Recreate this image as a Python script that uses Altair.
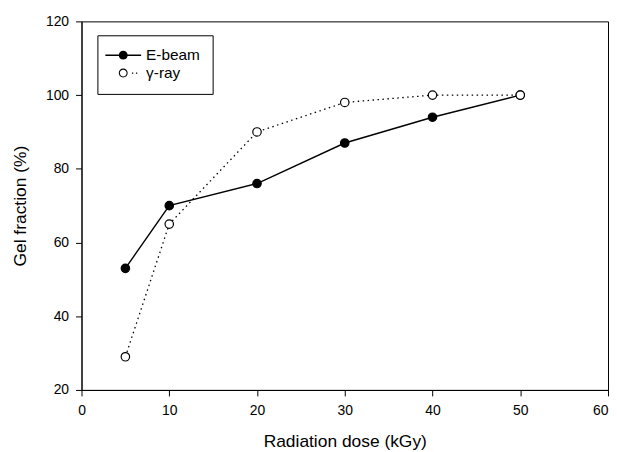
import altair as alt
import pandas as pd

# Data
dose = [5, 10, 20, 30, 40, 50]
ebeam = [53, 70, 76, 87, 94, 100]
gamma = [29, 65, 90, 98, 100, 100]
series_names = ["E-beam", "γ-ray"]
x_ticks = [0, 10, 20, 30, 40, 50, 60]
y_ticks = [20, 40, 60, 80, 100, 120]

df = pd.DataFrame({
    "dose": dose * 2,
    "gel": ebeam + gamma,
    "series": [series_names[0]] * len(dose) + [series_names[1]] * len(dose),
})

FONT = "Liberation Sans"

x_enc = alt.X("dose:Q", scale=alt.Scale(domain=[0, 60], nice=False),
              axis=alt.Axis(values=x_ticks, title="Radiation dose (kGy)", grid=False,
                            format="d", labelFlush=False,
                            labelAlign=alt.ExprRef(expr="datum.value >= 60 ? 'right' : 'center'")))
y_enc = alt.Y("gel:Q", scale=alt.Scale(domain=[20, 120], nice=False),
              axis=alt.Axis(values=y_ticks, title="Gel fraction (%)", grid=False,
                            format="d", labelFlush=False))

is_e = alt.datum.series == series_names[0]
is_g = alt.datum.series == series_names[1]

line_e = alt.Chart(df).transform_filter(is_e).mark_line(
    color="black", strokeWidth=1.4).encode(x=x_enc, y=y_enc)

line_g = alt.Chart(df).transform_filter(is_g).mark_line(
    color="black", strokeWidth=1.3, strokeDash=[1.5, 3.5]).encode(x=x_enc, y=y_enc)

# legend symbols (filled geometry only): line + filled dot ; open dot + two dots
p_e = ("M-2.25,-0.09L2.25,-0.09L2.25,0.09L-2.25,0.09Z"
       "M-0.56,0A0.56,0.56,0,1,1,0.56,0A0.56,0.56,0,1,1,-0.56,0Z")
p_g = ("M-0.56,0A0.56,0.56,0,1,1,0.56,0A0.56,0.56,0,1,1,-0.56,0Z"
       "M-0.43,0A0.43,0.43,0,1,0,0.43,0A0.43,0.43,0,1,0,-0.43,0Z"
       "M1.1,-0.08L1.26,-0.08L1.26,0.08L1.1,0.08Z"
       "M1.6,-0.08L1.76,-0.08L1.76,0.08L1.6,0.08Z")

legend_layer = alt.Chart(df).mark_point(
    filled=True, fill="black", stroke="black", strokeWidth=0, opacity=0).encode(
    x=x_enc, y=y_enc,
    shape=alt.Shape("series:N", scale=alt.Scale(domain=series_names, range=[p_e, p_g]),
                    legend=alt.Legend(title=None, orient="none", legendX=16, legendY=14,
                                      strokeColor="black", padding=12, rowPadding=1,
                                      symbolSize=256, symbolOffset=6, labelOffset=15,
                                      symbolFillColor="black", symbolStrokeWidth=0,
                                      symbolStrokeColor="black",
                                      symbolOpacity=1,
                                      labelFont=FONT, labelFontSize=15.5, labelColor="black",
                                      cornerRadius=0, fillColor="white")),
)

pts_e = alt.Chart(df).transform_filter(is_e).mark_point(
    filled=True, shape="circle", size=72, fill="black", stroke="black",
    strokeWidth=1.2, opacity=1).encode(x=x_enc, y=y_enc)

pts_g = alt.Chart(df).transform_filter(is_g).mark_point(
    filled=True, shape="circle", size=72, fill="white", stroke="black",
    strokeWidth=1.2, opacity=1).encode(x=x_enc, y=y_enc)

chart = alt.layer(line_e, line_g, legend_layer, pts_e, pts_g).properties(
    width=530, height=371,
    padding={"left": 3, "top": 5, "right": 0, "bottom": 0},
).configure_view(stroke="black", strokeWidth=1).configure_axis(
    domainColor="black", domainWidth=1, tickColor="black", tickWidth=1, tickSize=6,
    labelFont=FONT, labelFontSize=14, labelColor="black", labelPadding=7,
    titleFont=FONT, titleFontSize=17.5, titleFontWeight="normal", titleColor="black",
).configure_axisX(titlePadding=15, labelPadding=8).configure_axisY(titlePadding=16)

chart.save("out.html", embed_options={"renderer": "svg", "actions": False})
